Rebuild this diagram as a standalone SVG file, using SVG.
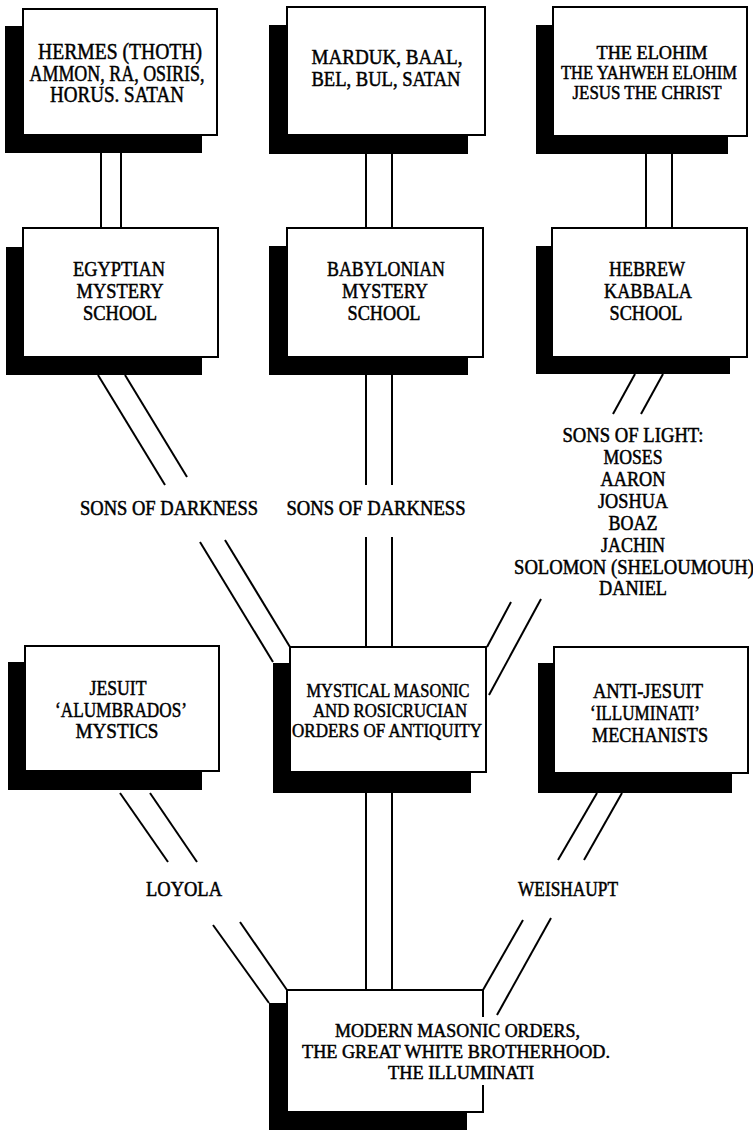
<svg xmlns="http://www.w3.org/2000/svg" width="753" height="1132" viewBox="0 0 753 1132">
<style>
.sh{fill:#000}
.bx{fill:#fff;stroke:#000;stroke-width:2}
.t{font-family:"Liberation Serif","Times New Roman",serif;fill:#000;stroke:#000;stroke-width:0.5;text-anchor:middle}
.c{stroke:#000;stroke-width:2;fill:none}
</style>
<rect width="753" height="1132" fill="#fff"/>
<g id="connectors" class="c">
<line x1="101" y1="153" x2="101" y2="228"/><line x1="121" y1="153" x2="121" y2="228"/>
<line x1="366" y1="154" x2="366" y2="228"/><line x1="392" y1="154" x2="392" y2="228"/>
<line x1="646" y1="154" x2="646" y2="228"/><line x1="672" y1="154" x2="672" y2="228"/>
<line x1="98" y1="375" x2="165" y2="485"/><line x1="200" y1="542" x2="273" y2="662"/>
<line x1="125" y1="375" x2="187" y2="477"/><line x1="225" y1="540" x2="290" y2="647"/>
<line x1="366" y1="375" x2="366" y2="485"/><line x1="366" y1="537" x2="366" y2="647"/>
<line x1="392" y1="375" x2="392" y2="485"/><line x1="392" y1="537" x2="392" y2="647"/>
<line x1="635" y1="374" x2="613" y2="414"/><line x1="511" y1="602" x2="487" y2="647"/>
<line x1="663" y1="374" x2="641" y2="414"/><line x1="541" y1="599" x2="489" y2="695"/>
<line x1="366" y1="793" x2="366" y2="990"/><line x1="392" y1="793" x2="392" y2="990"/>
<line x1="120" y1="793" x2="168" y2="862"/><line x1="213" y1="925" x2="269" y2="1003"/>
<line x1="150" y1="793" x2="197" y2="862"/><line x1="240" y1="922" x2="287" y2="990"/>
<line x1="597" y1="793" x2="558" y2="860"/><line x1="523" y1="920" x2="483" y2="990"/>
<line x1="622" y1="793" x2="584" y2="860"/><line x1="551" y1="918" x2="497" y2="1015"/>
</g>
<g id="labels">
<text class="t" x="169" y="515" font-size="20" textLength="178" lengthAdjust="spacingAndGlyphs">SONS OF DARKNESS</text>
<text class="t" x="376" y="515" font-size="20" textLength="179" lengthAdjust="spacingAndGlyphs">SONS OF DARKNESS</text>
<text class="t" x="633" y="442" font-size="20" textLength="141" lengthAdjust="spacingAndGlyphs">SONS OF LIGHT:</text>
<text class="t" x="633" y="464" font-size="20" textLength="59" lengthAdjust="spacingAndGlyphs">MOSES</text>
<text class="t" x="633" y="486" font-size="20" textLength="65" lengthAdjust="spacingAndGlyphs">AARON</text>
<text class="t" x="633" y="508" font-size="20" textLength="70" lengthAdjust="spacingAndGlyphs">JOSHUA</text>
<text class="t" x="633" y="530" font-size="20" textLength="49" lengthAdjust="spacingAndGlyphs">BOAZ</text>
<text class="t" x="633" y="552" font-size="20" textLength="64" lengthAdjust="spacingAndGlyphs">JACHIN</text>
<text class="t" x="634" y="574" font-size="20" textLength="240" lengthAdjust="spacingAndGlyphs">SOLOMON (SHELOUMOUH)</text>
<text class="t" x="633" y="595" font-size="20" textLength="68" lengthAdjust="spacingAndGlyphs">DANIEL</text>
<text class="t" x="184" y="896" font-size="20" textLength="76" lengthAdjust="spacingAndGlyphs">LOYOLA</text>
<text class="t" x="568" y="896" font-size="20" textLength="100" lengthAdjust="spacingAndGlyphs">WEISHAUPT</text>
</g>
<g id="hermes">
<rect class="sh" x="5" y="26" width="197" height="127"/>
<rect class="bx" x="23" y="9" width="194" height="126"/>
<text class="t" x="120" y="59" font-size="23" textLength="164" lengthAdjust="spacingAndGlyphs">HERMES (THOTH)</text>
<text class="t" x="117" y="81" font-size="23" textLength="175" lengthAdjust="spacingAndGlyphs">AMMON, RA, OSIRIS,</text>
<text class="t" x="117" y="102" font-size="23" textLength="134" lengthAdjust="spacingAndGlyphs">HORUS. SATAN</text>
</g>
<g id="marduk">
<rect class="sh" x="269" y="25" width="199" height="129"/>
<rect class="bx" x="287" y="7" width="198" height="128"/>
<text class="t" x="387" y="64" font-size="22" textLength="151" lengthAdjust="spacingAndGlyphs">MARDUK, BAAL,</text>
<text class="t" x="386" y="86" font-size="22" textLength="149" lengthAdjust="spacingAndGlyphs">BEL, BUL, SATAN</text>
</g>
<g id="elohim">
<rect class="sh" x="536" y="25" width="192" height="129"/>
<rect class="bx" x="553" y="7" width="194" height="129"/>
<text class="t" x="652" y="59" font-size="19" textLength="111" lengthAdjust="spacingAndGlyphs">THE ELOHIM</text>
<text class="t" x="649" y="79" font-size="19" textLength="176" lengthAdjust="spacingAndGlyphs">THE YAHWEH ELOHIM</text>
<text class="t" x="647" y="99" font-size="19" textLength="149" lengthAdjust="spacingAndGlyphs">JESUS THE CHRIST</text>
</g>
<g id="egyptian">
<rect class="sh" x="6" y="247" width="196" height="128"/>
<rect class="bx" x="23" y="228" width="195" height="129"/>
<text class="t" x="119" y="276" font-size="21" textLength="92" lengthAdjust="spacingAndGlyphs">EGYPTIAN</text>
<text class="t" x="120" y="298" font-size="21" textLength="87" lengthAdjust="spacingAndGlyphs">MYSTERY</text>
<text class="t" x="120" y="320" font-size="21" textLength="74" lengthAdjust="spacingAndGlyphs">SCHOOL</text>
</g>
<g id="babylonian">
<rect class="sh" x="269" y="246" width="199" height="129"/>
<rect class="bx" x="287" y="228" width="196" height="129"/>
<text class="t" x="386" y="276" font-size="21" textLength="118" lengthAdjust="spacingAndGlyphs">BABYLONIAN</text>
<text class="t" x="385" y="298" font-size="21" textLength="86" lengthAdjust="spacingAndGlyphs">MYSTERY</text>
<text class="t" x="384" y="320" font-size="21" textLength="73" lengthAdjust="spacingAndGlyphs">SCHOOL</text>
</g>
<g id="hebrew">
<rect class="sh" x="536" y="246" width="194" height="128"/>
<rect class="bx" x="552" y="228" width="195" height="129"/>
<text class="t" x="647" y="276" font-size="21" textLength="76" lengthAdjust="spacingAndGlyphs">HEBREW</text>
<text class="t" x="648" y="298" font-size="21" textLength="88" lengthAdjust="spacingAndGlyphs">KABBALA</text>
<text class="t" x="646" y="320" font-size="21" textLength="73" lengthAdjust="spacingAndGlyphs">SCHOOL</text>
</g>
<g id="jesuit">
<rect class="sh" x="8" y="662" width="194" height="128"/>
<rect class="bx" x="25" y="646" width="194" height="125"/>
<text class="t" x="118" y="695" font-size="21" textLength="57" lengthAdjust="spacingAndGlyphs">JESUIT</text>
<text class="t" x="121" y="717" font-size="21" textLength="132" lengthAdjust="spacingAndGlyphs">‘ALUMBRADOS’</text>
<text class="t" x="117" y="738" font-size="21" textLength="83" lengthAdjust="spacingAndGlyphs">MYSTICS</text>
</g>
<g id="mystical">
<rect class="sh" x="273" y="663" width="198" height="130"/>
<rect class="bx" x="290" y="647" width="196" height="125"/>
<text class="t" x="388" y="697" font-size="19.5" textLength="163" lengthAdjust="spacingAndGlyphs">MYSTICAL MASONIC</text>
<text class="t" x="390" y="717" font-size="19.5" textLength="154" lengthAdjust="spacingAndGlyphs">AND ROSICRUCIAN</text>
<text class="t" x="387" y="737" font-size="19.5" textLength="190" lengthAdjust="spacingAndGlyphs">ORDERS OF ANTIQUITY</text>
</g>
<g id="antijesuit">
<rect class="sh" x="538" y="663" width="194" height="130"/>
<rect class="bx" x="554" y="647" width="194" height="126"/>
<text class="t" x="648" y="698" font-size="21" textLength="110" lengthAdjust="spacingAndGlyphs">ANTI-JESUIT</text>
<text class="t" x="645" y="720" font-size="21" textLength="110" lengthAdjust="spacingAndGlyphs">‘ILLUMINATI’</text>
<text class="t" x="650" y="742" font-size="21" textLength="116" lengthAdjust="spacingAndGlyphs">MECHANISTS</text>
</g>
<g id="modern">
<rect class="sh" x="269" y="1003" width="198" height="127"/>
<rect x="287" y="990" width="196" height="122" fill="#fff"/>
<path class="c" d="M483 1017 V990 H287 V1112 H483 V1085"/>
<text class="t" x="335" y="1037" font-size="19" style="text-anchor:start" textLength="245" lengthAdjust="spacingAndGlyphs">MODERN MASONIC ORDERS,</text>
<text class="t" x="302" y="1058" font-size="19" style="text-anchor:start" textLength="308" lengthAdjust="spacingAndGlyphs">THE GREAT WHITE BROTHERHOOD.</text>
<text class="t" x="388" y="1079" font-size="19" style="text-anchor:start" textLength="146" lengthAdjust="spacingAndGlyphs">THE ILLUMINATI</text>
</g>
</svg>
